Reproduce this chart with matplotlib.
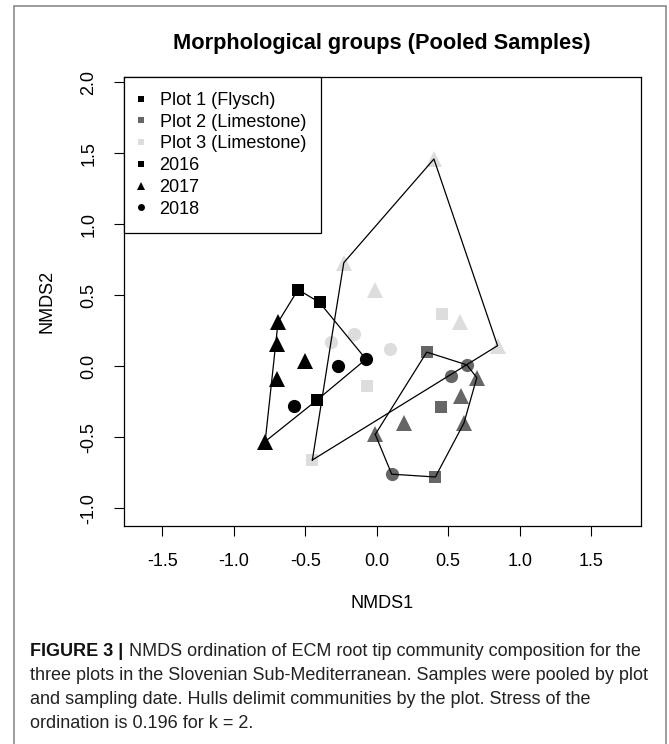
import matplotlib
matplotlib.use("Agg")
import matplotlib.pyplot as plt
from matplotlib.lines import Line2D
from matplotlib.patches import Rectangle

plt.rcParams['font.family'] = ['Liberation Sans', 'DejaVu Sans']
plt.rcParams['axes.unicode_minus'] = False

# NMDS scores, per plot and sampling year
plot1_2016_x = [-0.55, -0.40, -0.42]
plot1_2016_y = [0.54, 0.45, -0.24]
plot1_2017_x = [-0.69, -0.70, -0.70, -0.50, -0.78]
plot1_2017_y = [0.31, 0.16, -0.09, 0.04, -0.53]
plot1_2018_x = [-0.58, -0.27, -0.075]
plot1_2018_y = [-0.28, 0.00, 0.05]

plot2_2016_x = [0.35, 0.45, 0.41]
plot2_2016_y = [0.10, -0.29, -0.78]
plot2_2017_x = [0.70, 0.59, 0.61, 0.19, -0.01]
plot2_2017_y = [-0.08, -0.21, -0.40, -0.40, -0.48]
plot2_2018_x = [0.63, 0.52, 0.105]
plot2_2018_y = [0.01, -0.07, -0.76]

plot3_2016_x = [-0.45, -0.07, 0.46]
plot3_2016_y = [-0.66, -0.14, 0.37]
plot3_2017_x = [0.40, -0.23, -0.01, 0.58, 0.845]
plot3_2017_y = [1.46, 0.73, 0.54, 0.31, 0.145]
plot3_2018_x = [-0.32, -0.16, 0.09]
plot3_2018_y = [0.17, 0.23, 0.12]

plot_names = ['Plot 1 (Flysch)', 'Plot 2 (Limestone)', 'Plot 3 (Limestone)']
plot_colors = ['black', '#666666', '#dddddd']
years = ['2016', '2017', '2018']
year_markers = ['s', '^', 'o']
year_sizes = [9, 11, 9.5]

caption_lines = [
    'NMDS ordination of ECM root tip community composition for the',
    'three plots in the Slovenian Sub-Mediterranean. Samples were pooled by plot',
    'and sampling date. Hulls delimit communities by the plot. Stress of the',
    'ordination is 0.196 for k = 2.',
]


def convex_hull(xs, ys):
    pts = sorted(set(zip(xs, ys)))

    def cross(o, a, b):
        return (a[0] - o[0]) * (b[1] - o[1]) - (a[1] - o[1]) * (b[0] - o[0])

    lower = []
    for p in pts:
        while len(lower) >= 2 and cross(lower[-2], lower[-1], p) <= 0:
            lower.pop()
        lower.append(p)
    upper = []
    for p in reversed(pts):
        while len(upper) >= 2 and cross(upper[-2], upper[-1], p) <= 0:
            upper.pop()
        upper.append(p)
    hull = lower[:-1] + upper[:-1]
    hull.append(hull[0])
    return [p[0] for p in hull], [p[1] for p in hull]


def main():
    fig = plt.figure(figsize=(6.69, 7.44), dpi=100)
    W, H = 669.0, 744.0

    # grey frame around the panel
    fig.patches.append(Rectangle((14 / W, -0.01), 652 / W, 1 - 6 / H + 0.01,
                                 transform=fig.transFigure, fill=False,
                                 edgecolor='#8a8a8a', lw=1.2))

    ax = fig.add_axes([124.3 / W, 1 - 525.7 / H, 516.4 / W, 449.0 / H])

    groups = [
        [(plot1_2016_x, plot1_2016_y), (plot1_2017_x, plot1_2017_y), (plot1_2018_x, plot1_2018_y)],
        [(plot2_2016_x, plot2_2016_y), (plot2_2017_x, plot2_2017_y), (plot2_2018_x, plot2_2018_y)],
        [(plot3_2016_x, plot3_2016_y), (plot3_2017_x, plot3_2017_y), (plot3_2018_x, plot3_2018_y)],
    ]

    for i, plot in enumerate(groups):
        all_x = []
        all_y = []
        for j, (xs, ys) in enumerate(plot):
            ax.plot(xs, ys, linestyle='none', marker=year_markers[j], ms=year_sizes[j],
                    color=plot_colors[i], mew=0, zorder=2)
            all_x += xs
            all_y += ys
        hx, hy = convex_hull(all_x, all_y)
        ax.plot(hx, hy, color='black', lw=0.9, zorder=3)

    ax.set_xlim(-1.765, 1.846)
    ax.set_ylim(-1.123, 2.04)
    ax.set_xticks([-1.5, -1.0, -0.5, 0.0, 0.5, 1.0, 1.5])
    ax.set_yticks([-1.0, -0.5, 0.0, 0.5, 1.0, 1.5, 2.0])
    ax.set_yticklabels(['-1.0', '-0.5', '0.0', '0.5', '1.0', '1.5', '2.0'],
                       rotation=90, va='center')
    ax.tick_params(direction='out', length=7.5, width=0.8, labelsize=13, pad=12)
    for s in ax.spines.values():
        s.set_linewidth(0.9)

    fig.text(382.5 / W, 1 - 604 / H, 'NMDS1', ha='center', va='center', fontsize=13)
    fig.text(46.7 / W, 1 - 301.2 / H, 'NMDS2', ha='center', va='center',
             rotation=90, fontsize=13)
    fig.text(382.3 / W, 1 - 49.3 / H, 'Morphological groups (Pooled Samples)',
             ha='center', va='baseline', fontsize=15.7, weight='bold')

    handles = []
    labels = []
    for i in range(3):
        handles.append(Line2D([], [], linestyle='none', marker='s', ms=4.5,
                              color=plot_colors[i], mew=0))
        labels.append(plot_names[i])
    leg_sizes = [4.5, 5.5, 5]
    for j in range(3):
        handles.append(Line2D([], [], linestyle='none', marker=year_markers[j],
                              ms=leg_sizes[j], color='black', mew=0))
        labels.append(years[j])
    leg = ax.legend(handles, labels, loc='upper left', bbox_to_anchor=(0, 1),
                    borderaxespad=0, fontsize=13, fancybox=False, framealpha=1,
                    edgecolor='black', borderpad=0.85, handlelength=0.1,
                    handletextpad=1.0, labelspacing=0.26)
    leg.get_frame().set_linewidth(0.9)

    # caption with bold figure label
    cap_x = 30 / W
    cap_y = [652, 676, 700, 723]
    cap_size = 13
    bold = fig.text(cap_x, 1 - cap_y[0] / H, 'FIGURE 3 |', weight='bold',
                    fontsize=cap_size, va='center', color='#111111')
    fig.canvas.draw()
    bb = bold.get_window_extent()
    fig.text((bb.x1 + 6) / W, 1 - cap_y[0] / H, caption_lines[0], fontsize=cap_size,
             va='center', color='#222222')
    for k in range(1, 4):
        fig.text(cap_x, 1 - cap_y[k] / H, caption_lines[k], fontsize=cap_size,
                 va='center', color='#222222')

    fig.savefig('out.png', dpi=100)


if __name__ == "__main__":
    main()
